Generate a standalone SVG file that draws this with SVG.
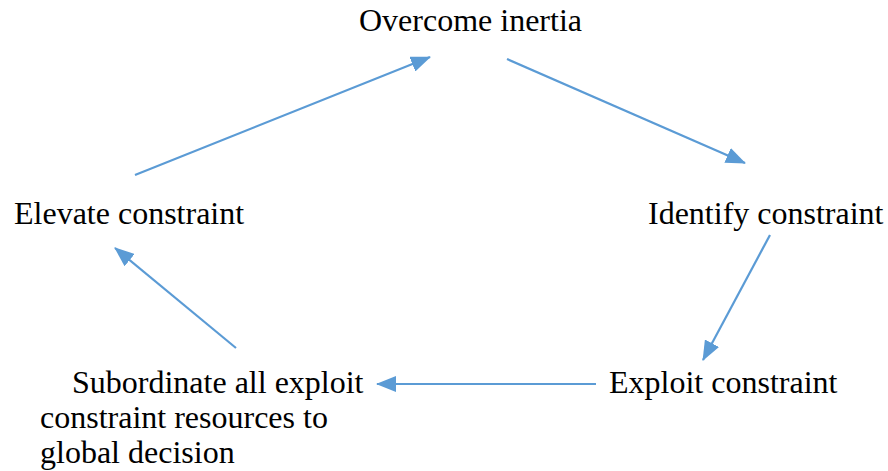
<svg xmlns="http://www.w3.org/2000/svg" width="888" height="471" viewBox="0 0 888 471">
<style>
text{font-family:"Liberation Serif","Times New Roman",serif;font-size:32px;fill:#000}
.c line{stroke:#5B9BD5;stroke-width:2.2;marker-end:url(#ah)}
</style>
<defs>
<marker id="ah" markerUnits="userSpaceOnUse" markerWidth="20" markerHeight="16" refX="19" refY="8" orient="auto">
<path d="M0,0 L20,8 L0,16 z" fill="#5B9BD5"/>
</marker>
</defs>
<rect width="888" height="471" fill="#fff"/>
<g id="overcome"><text x="359" y="31">Overcome inertia</text></g>
<g id="identify"><text x="648" y="224">Identify constraint</text></g>
<g id="exploit"><text x="609" y="393">Exploit constraint</text></g>
<g id="subordinate"><text x="72" y="393">Subordinate all exploit</text><text x="40" y="428">constraint resources to</text><text x="40" y="463">global decision</text></g>
<g id="elevate"><text x="14" y="224">Elevate constraint</text></g>
<g class="c" id="connectors">
<line x1="135" y1="175" x2="430" y2="57"/>
<line x1="507" y1="59" x2="745" y2="163"/>
<line x1="770" y1="235" x2="703" y2="360"/>
<line x1="596" y1="384" x2="377" y2="384"/>
<line x1="236" y1="348" x2="115" y2="248"/>
</g>
</svg>
